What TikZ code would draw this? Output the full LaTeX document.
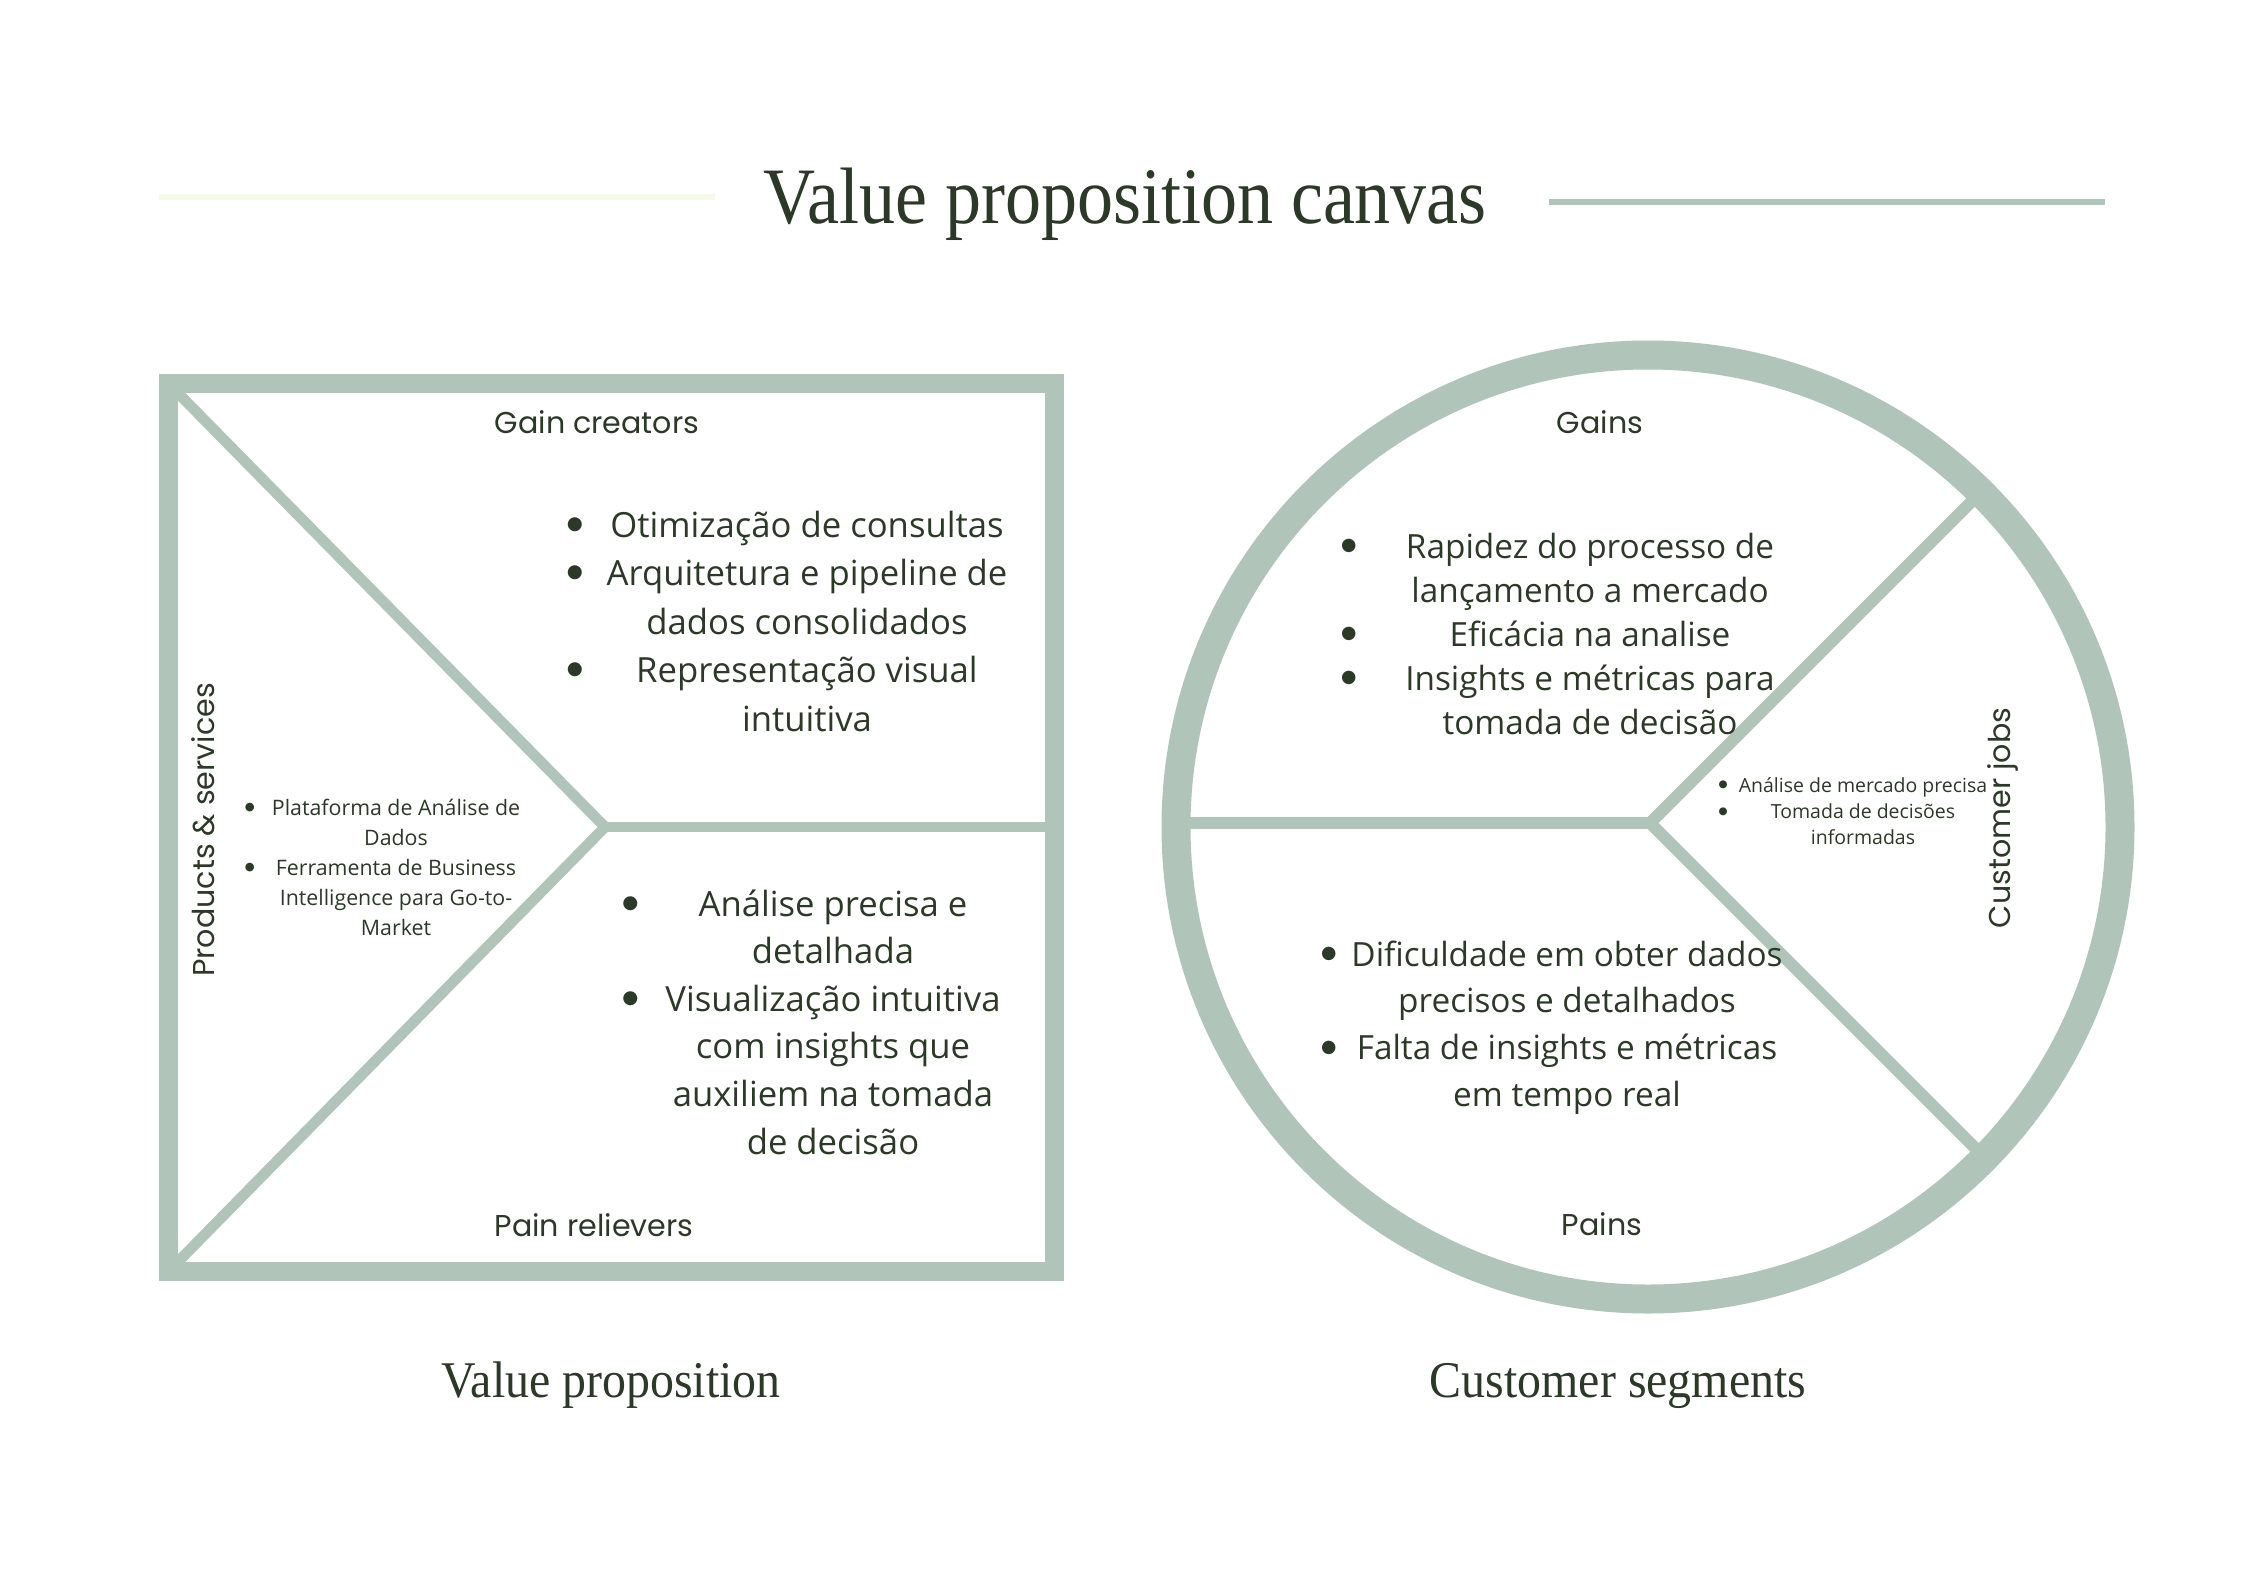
\documentclass[tikz,border=0pt]{standalone}
\usepackage{fontspec}
\setmainfont{Open Sans}
\newfontfamily\titlefont[FakeStretch=0.9]{Liberation Serif}
\newfontfamily\captionfont[FakeStretch=0.93]{Liberation Serif}
\newfontfamily\labelfont{Poppins}
\newfontfamily\bodyfont{Open Sans}
\newfontfamily\dotfont{DejaVu Sans}
\definecolor{sage}{RGB}{177,196,186}
\definecolor{ink}{RGB}{44,56,40}
\definecolor{pale}{RGB}{246,250,232}
\newcommand\bigdot{\raisebox{0.22em}{\scalebox{0.53}{\dotfont ●}}}
\newcommand\bitem[2]{\llap{\makebox[0pt]{\bigdot}\hspace*{#1}}\makebox[0pt]{#2}}
\newcommand\cl[1]{\makebox[0pt]{#1}}
\newcommand\vplist[1]{\begin{tabular}[t]{@{}c@{}}#1\end{tabular}}
\tikzset{
  frame/.style={draw=sage, line width=7.125pt},
  ring/.style={draw=sage, line width=10.875pt},
  divider/.style={draw=sage, line width=4pt},
  cdivider/.style={draw=sage, line width=4.5pt},
  lbl/.style={font=\labelfont\fontsize{11.3}{13}\selectfont, text=ink, inner sep=0pt},
  lst/.style={text=ink, inner sep=0pt, anchor=base},
  heading/.style={font=\titlefont\fontsize{30}{34}\selectfont, text=ink, inner sep=0pt, anchor=base},
  caption/.style={font=\captionfont\fontsize{19.3}{22}\selectfont, text=ink, inner sep=0pt, anchor=base},
}
\begin{document}
\begin{tikzpicture}[x=0.375pt, y=-0.375pt]
\useasboundingbox[fill=white] (0,0) rectangle (2245,1587);
% title and rules
\node[heading] (title) at (1125,224) {Value proposition canvas};
\coordinate (la) at (159,197); \coordinate (lb) at (715,197);
\coordinate (ra) at (1549,202); \coordinate (rb) at (2105,202);
\draw[pale, line width=2.25pt] (la) -- (lb);
\draw[sage, line width=2.25pt] (ra) -- (rb);
% value proposition square
\coordinate (tl) at (168.5,383.5); \coordinate (bl) at (168.5,1271.5);
\coordinate (vx) at (605,827); \coordinate (re) at (1054.5,827);
\draw[divider, line join=miter] (tl) -- (vx) -- (bl);
\draw[divider] (vx) -- (re);
\draw[frame] (168.5,383.5) rectangle (1054.5,1271.5);
% customer circle
\coordinate (cc) at (1648,827);
\coordinate (cv) at (1650,823);
\coordinate (cl) at (1176,823);
\coordinate (cu) at (1980,493);
\coordinate (cd) at (1982,1155);
\draw[cdivider] (cl) -- (cv);
\draw[cdivider] (cv) -- (cu);
\draw[cdivider] (cv) -- (cd);
\draw[ring] (cc) circle[radius=177pt];
% section labels
\node[lbl, anchor=base] (gcl) at (597,434) {Gain creators};
\node[lbl, anchor=base] (prl) at (594,1236) {Pain relievers};
\node[lbl, anchor=base] (gl) at (1600,434) {Gains};
\node[lbl, anchor=base] (pl) at (1602,1235) {Pains};
\node[lbl, rotate=90] (psl) at (203,830) {Products \& services};
\node[lbl, rotate=90] (cjl) at (2003,818) {Customer jobs};
% lists
\node[lst, font=\bodyfont\fontsize{13}{18.2}\selectfont] (gc) at (807,537) {\vplist{%
  \bitem{87pt}{Otimização de consultas}\\
  \bitem{87pt}{Arquitetura e pipeline de}\\
  \cl{dados consolidados}\\
  \bitem{87pt}{Representação visual}\\
  \cl{intuitiva}}};
\node[lst, font=\bodyfont\fontsize{13}{17.85}\selectfont] (pr) at (833,916) {\vplist{%
  \bitem{76pt}{Análise precisa e}\\
  \cl{detalhada}\\
  \bitem{76pt}{Visualização intuitiva}\\
  \cl{com insights que}\\
  \cl{auxiliem na tomada}\\
  \cl{de decisão}}};
\node[lst, font=\bodyfont\fontsize{8}{11.25}\selectfont] (ps) at (396,815) {\vplist{%
  \bitem{54.8pt}{Plataforma de Análise de}\\
  \cl{Dados}\\
  \bitem{54.8pt}{Ferramenta de Business}\\
  \cl{Intelligence para Go-to-}\\
  \cl{Market}}};
\node[lst, font=\bodyfont\fontsize{12.5}{16.5}\selectfont] (gn) at (1590,558) {\vplist{%
  \bitem{90.4pt}{Rapidez do processo de}\\
  \cl{lançamento a mercado}\\
  \bitem{90.4pt}{Eficácia na analise}\\
  \bitem{90.4pt}{Insights e métricas para}\\
  \cl{tomada de decisão}}};
\node[lst, font=\bodyfont\fontsize{12.5}{17.5}\selectfont] (pn) at (1567,966) {\vplist{%
  \bitem{89.3pt}{Dificuldade em obter dados}\\
  \cl{precisos e detalhados}\\
  \bitem{89.3pt}{Falta de insights e métricas}\\
  \cl{em tempo real}}};
\node[lst, font=\bodyfont\fontsize{7.3}{9.9}\selectfont] (cj) at (1863,792) {\vplist{%
  \bitem{52.5pt}{Análise de mercado precisa}\\
  \bitem{52.5pt}{Tomada de decisões}\\
  \cl{informadas}}};
% captions
\node[caption] (vpc) at (611,1397) {Value proposition};
\node[caption] (csc) at (1618,1397) {Customer segments};
\end{tikzpicture}
\end{document}
